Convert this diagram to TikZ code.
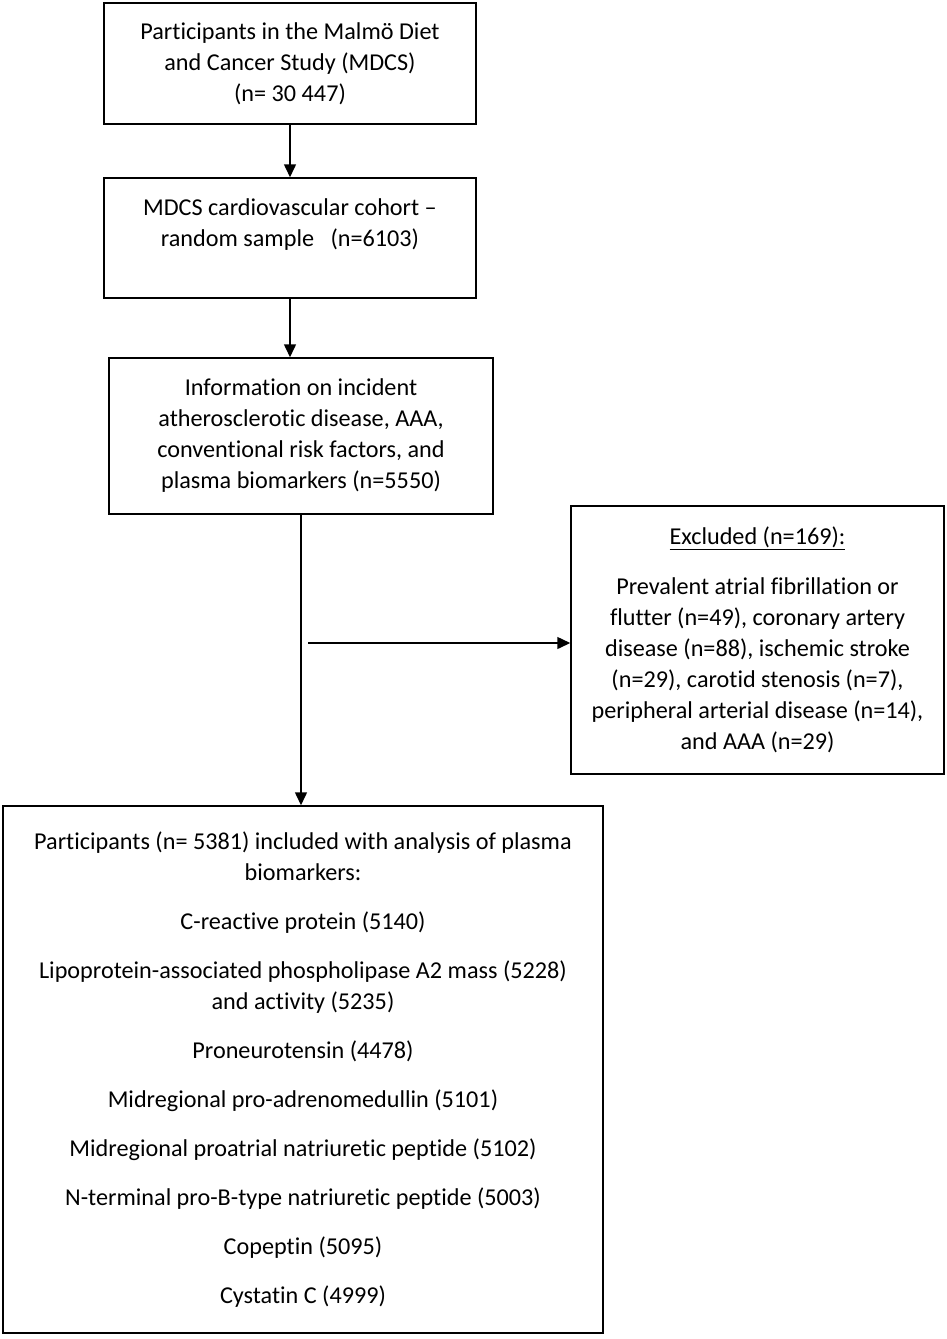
\documentclass[tikz,border=0pt]{standalone}
\usepackage{fontspec}
\setmainfont{Carlito}[Ligatures=NoCommon]
\usetikzlibrary{arrows.meta}
\begin{document}
\begin{tikzpicture}[x=1pt,y=-1pt,
every node/.style={%
line width=1.5pt,
draw,
anchor=center,
align=center,
inner sep=0pt,
font=\fontsize{24.2}{31}\selectfont,
},
arw/.style={-{Triangle[length=13pt,width=12pt]},line width=1.5pt}
]
\useasboundingbox (0,0) rectangle (947,1339);
\node[minimum height=121,minimum width=372]at(290,63.5)(mdcs){Participants in the Malmö Diet\\and Cancer Study (MDCS)\\(n= 30 447)};
\node[minimum height=120,minimum width=372]at(290,238)(cvc){MDCS cardiovascular cohort –\\random sample \ \ (n=6103)\\\mbox{}};
\node[minimum height=156,minimum width=384]at(301,436)(info){Information on incident\\atherosclerotic disease, AAA,\\conventional risk factors, and\\plasma biomarkers (n=5550)};
\node[minimum height=268,minimum width=373]at(757.5,640)(excl){\underline{Excluded (n=169):}\\[19pt]Prevalent atrial fibrillation or\\flutter (n=49), coronary artery\\disease (n=88), ischemic stroke\\(n=29), carotid stenosis (n=7),\\peripheral arterial disease (n=14),\\and AAA (n=29)};
\node[minimum height=527,minimum width=600]at(303,1069.5)(incl){Participants (n= 5381) included with analysis of plasma\\biomarkers:\\[18pt]
C-reactive protein (5140)\\[18pt]
Lipoprotein-associated phospholipase A2 mass (5228)\\and activity (5235)\\[18pt]
Proneurotensin (4478)\\[18pt]
Midregional pro-adrenomedullin (5101)\\[18pt]
Midregional proatrial natriuretic peptide (5102)\\[18pt]
N-terminal pro-B-type natriuretic peptide (5003)\\[18pt]
Copeptin (5095)\\[18pt]
Cystatin C (4999)};
\coordinate(split)at(308,643);
\draw[arw](mdcs)--(cvc);
\draw[arw](cvc.south)--(cvc.south|-info.north);
\draw[arw](info.south)--(info.south|-incl.north);
\draw[arw](split)--(split-|excl.west);
\end{tikzpicture}
\end{document}
